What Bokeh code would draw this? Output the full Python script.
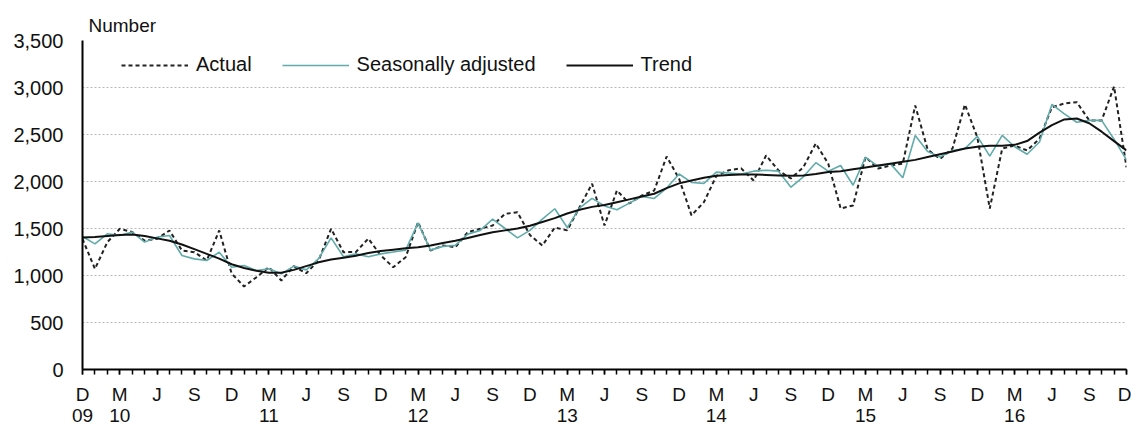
from bokeh.plotting import figure
from bokeh.models import (FixedTicker, LinearAxis, NumeralTickFormatter, Legend,
                          LegendItem, Range1d, ColumnDataSource)
from bokeh.embed import file_html
from bokeh.resources import INLINE

# ---- data (monthly, Dec 2009 .. Dec 2016) ----
month_index = list(range(85))
month_letters = ["J", "F", "M", "A", "M", "J", "J", "A", "S", "O", "N", "D"]
start_month = 11  # December (0 = January)
start_year = 2009

actual = [1390, 1070, 1355, 1497, 1462, 1372, 1390, 1479, 1266, 1248, 1160, 1479,
          1021, 883, 982, 1088, 947, 1100, 1024, 1160, 1497, 1248, 1250, 1393,
          1213, 1088, 1195, 1567, 1266, 1319, 1301, 1461, 1497, 1532, 1656, 1673,
          1430, 1319, 1510, 1480, 1727, 1977, 1532, 1904, 1766, 1851, 1904, 2266,
          2030, 1640, 1780, 2060, 2120, 2140, 2010, 2277, 2117, 2032, 2152, 2404,
          2191, 1713, 1745, 2259, 2138, 2170, 2191, 2809, 2340, 2240, 2350, 2819,
          2470, 1713, 2350, 2383, 2330, 2456, 2790, 2830, 2844, 2650, 2650, 3010,
          2150]

seasonally_adjusted = [1415, 1337, 1444, 1426, 1462, 1355, 1408, 1426, 1213, 1177, 1160, 1248,
                       1088, 1106, 1053, 1071, 1018, 1100, 1060, 1180, 1400, 1200, 1230, 1200,
                       1230, 1250, 1270, 1560, 1270, 1310, 1320, 1440, 1480, 1600, 1500, 1400,
                       1480, 1600, 1710, 1510, 1720, 1820, 1740, 1700, 1770, 1840, 1820, 1930,
                       2080, 1990, 1980, 2100, 2090, 2080, 2110, 2120, 2110, 1940, 2050, 2200,
                       2110, 2170, 1960, 2260, 2160, 2190, 2040, 2490, 2320, 2260, 2330, 2350,
                       2480, 2270, 2490, 2370, 2290, 2420, 2820, 2720, 2630, 2650, 2650, 2450,
                       2230]

trend = [1405, 1410, 1420, 1430, 1435, 1420, 1395, 1370, 1330, 1280, 1230, 1180,
         1120, 1080, 1050, 1030, 1030, 1060, 1100, 1140, 1170, 1190, 1210, 1240,
         1260, 1275, 1290, 1300, 1320, 1345, 1370, 1400, 1430, 1460, 1480, 1500,
         1530, 1570, 1610, 1660, 1700, 1730, 1750, 1780, 1810, 1840, 1870, 1930,
         1980, 2010, 2040, 2060, 2070, 2075, 2075, 2070, 2065, 2060, 2065, 2080,
         2100, 2110, 2130, 2150, 2170, 2190, 2210, 2230, 2260, 2290, 2320, 2350,
         2370, 2380, 2380, 2390, 2430, 2520, 2600, 2660, 2670, 2620, 2530, 2430,
         2330]

y_ticks = [0, 500, 1000, 1500, 2000, 2500, 3000, 3500]

# tick labels built from the month sequence
month_tick_positions = [i for i in month_index if i % 3 == 0]
month_tick_labels = {i: month_letters[(start_month + i) % 12] for i in month_tick_positions}
year_tick_labels = {}
for i in month_index:
    m = (start_month + i) % 12
    y = start_year + (start_month + i) // 12
    if i == 0 or m == 2:
        year_tick_labels[i] = "%02d" % (y % 100)
year_tick_positions = list(year_tick_labels.keys())

src = ColumnDataSource(dict(x=month_index, actual=actual, sa=seasonally_adjusted, trend=trend))

FONT = "Liberation Sans"
TXT = "#111111"

p = figure(width=1131, height=426, output_backend="svg", toolbar_location=None,
           x_range=Range1d(0, 84), y_range=Range1d(0, 3500),
           min_border_left=82, min_border_right=5, min_border_top=40, min_border_bottom=57)
p.outline_line_color = None
p.background_fill_color = "white"
p.border_fill_color = "white"

# title used as the unit label above the axis
p.title.text = "Number"
p.title.align = "left"
p.title.offset = 6
p.title.standoff = 10
p.title.text_font = FONT
p.title.text_font_size = "19px"
p.title.text_font_style = "normal"
p.title.text_color = TXT

r_act = p.line("x", "actual", source=src, line_color="#222222", line_width=2, line_dash="4 3")
r_sa = p.line("x", "sa", source=src, line_color="#62abab", line_width=1.6)
r_tr = p.line("x", "trend", source=src, line_color="#111111", line_width=2)

# grid
p.xgrid.visible = False
p.ygrid.ticker = FixedTicker(ticks=y_ticks)
p.ygrid.grid_line_color = "#b8b8b8"
p.ygrid.grid_line_dash = "2 2"
p.ygrid.grid_line_width = 1

# y axis
ya = p.yaxis[0]
ya.ticker = FixedTicker(ticks=y_ticks)
ya.formatter = NumeralTickFormatter(format="0,0")
ya.major_tick_line_color = None
ya.minor_tick_line_color = None
ya.axis_line_color = "black"
ya.axis_line_width = 2
ya.major_label_standoff = 13
ya.major_label_text_font = FONT
ya.major_label_text_font_size = "20px"
ya.major_label_text_color = TXT

# x axis: month letters
xa = p.xaxis[0]
xa.ticker = FixedTicker(ticks=month_tick_positions, minor_ticks=month_index)
xa.major_label_overrides = month_tick_labels
xa.axis_line_color = "black"
xa.axis_line_width = 2
xa.major_tick_line_color = "black"
xa.minor_tick_line_color = "black"
xa.major_tick_line_width = 1.5
xa.minor_tick_line_width = 1.5
xa.major_tick_in = 0
xa.major_tick_out = 5
xa.minor_tick_in = 0
xa.minor_tick_out = 5
xa.major_label_standoff = 9
xa.major_label_text_font = FONT
xa.major_label_text_font_size = "19px"
xa.major_label_text_color = TXT

# second x axis: years
xa2 = LinearAxis(ticker=FixedTicker(ticks=year_tick_positions, minor_ticks=[]))
xa2.major_label_overrides = year_tick_labels
xa2.axis_line_color = None
xa2.major_tick_line_color = None
xa2.minor_tick_line_color = None
xa2.major_tick_in = 0
xa2.major_tick_out = 0
xa2.major_label_standoff = 1
xa2.major_label_text_font = FONT
xa2.major_label_text_font_size = "19px"
xa2.major_label_text_color = TXT
p.add_layout(xa2, "below")

# legend
legend = Legend(items=[LegendItem(label="Actual", renderers=[r_act]),
                       LegendItem(label="Seasonally adjusted", renderers=[r_sa]),
                       LegendItem(label="Trend", renderers=[r_tr])],
                orientation="horizontal", location=(39, 293),
                padding=0, margin=0, spacing=30, glyph_width=67, glyph_height=20,
                label_standoff=8, label_text_font=FONT, label_text_font_size="20px",
                label_text_color=TXT, border_line_color=None, background_fill_alpha=0)
p.add_layout(legend, "center")

open("out.html", "w").write(file_html(p, INLINE))
